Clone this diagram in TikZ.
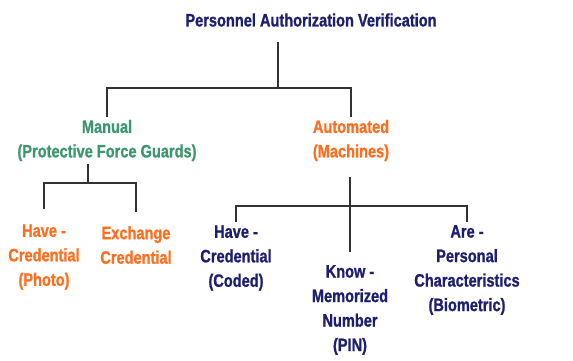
\documentclass[tikz,border=0pt]{standalone}
\usepackage{fontspec}
\setmainfont{Liberation Sans}[FakeStretch=0.81, BoldFeatures={FakeBold=1}]
\definecolor{navy}{RGB}{30,30,110}
\definecolor{guardgreen}{RGB}{60,150,110}
\definecolor{machorange}{RGB}{255,110,30}
\begin{document}
\begin{tikzpicture}[x=1pt, y=-1pt,
        box/.style = {align=center, inner sep=3pt, font=\fontsize{18}{24.5}\selectfont\bfseries},
        tree/.style = {draw={rgb,255:red,50;green,50;blue,50}, line width=1.3pt},
    ]
        \useasboundingbox (0,0) rectangle (573,360);
        \node[box, text=navy] (title) at (311,20) {Personnel Authorization Verification};
        \node[box, text=guardgreen] (manual) at (107,140.5) {Manual\\(Protective Force Guards)};
        \node[box, text=machorange] (auto) at (351,140.5) {Automated\\(Machines)};
        \node[box, text=machorange] (photo) at (44,257) {Have -\\Credential\\(Photo)};
        \node[box, text=machorange] (exch) at (136,245) {Exchange\\Credential};
        \node[box, text=navy] (coded) at (236,258) {Have -\\Credential\\(Coded)};
        \node[box, text=navy] (pin) at (350,310) {Know -\\Memorized\\Number\\(PIN)};
        \node[box, text=navy] (bio) at (467,270) {Are -\\Personal\\Characteristics\\(Biometric)};
        \coordinate (split) at (278,88);
        \coordinate (msplit) at (88,183);
        \coordinate (asplit) at (350,206);
        % tree lines
        \draw[tree, shorten <=12pt] (title.south -| split) -- (split) -| (manual.north);
        \draw[tree] (split) -| (auto.north);
        \draw[tree] (manual.south -| msplit) -- (msplit);
        \draw[tree, shorten >=12pt] (msplit) -| (photo.north);
        \draw[tree, shorten >=11pt] (msplit) -| (exch.north);
        \draw[tree, shorten <=13pt, shorten >=10pt] (auto.south -| asplit) -- (pin.north);
        \draw[tree] (coded.north) |- (asplit) -| (bio.north);
\end{tikzpicture}
\end{document}
